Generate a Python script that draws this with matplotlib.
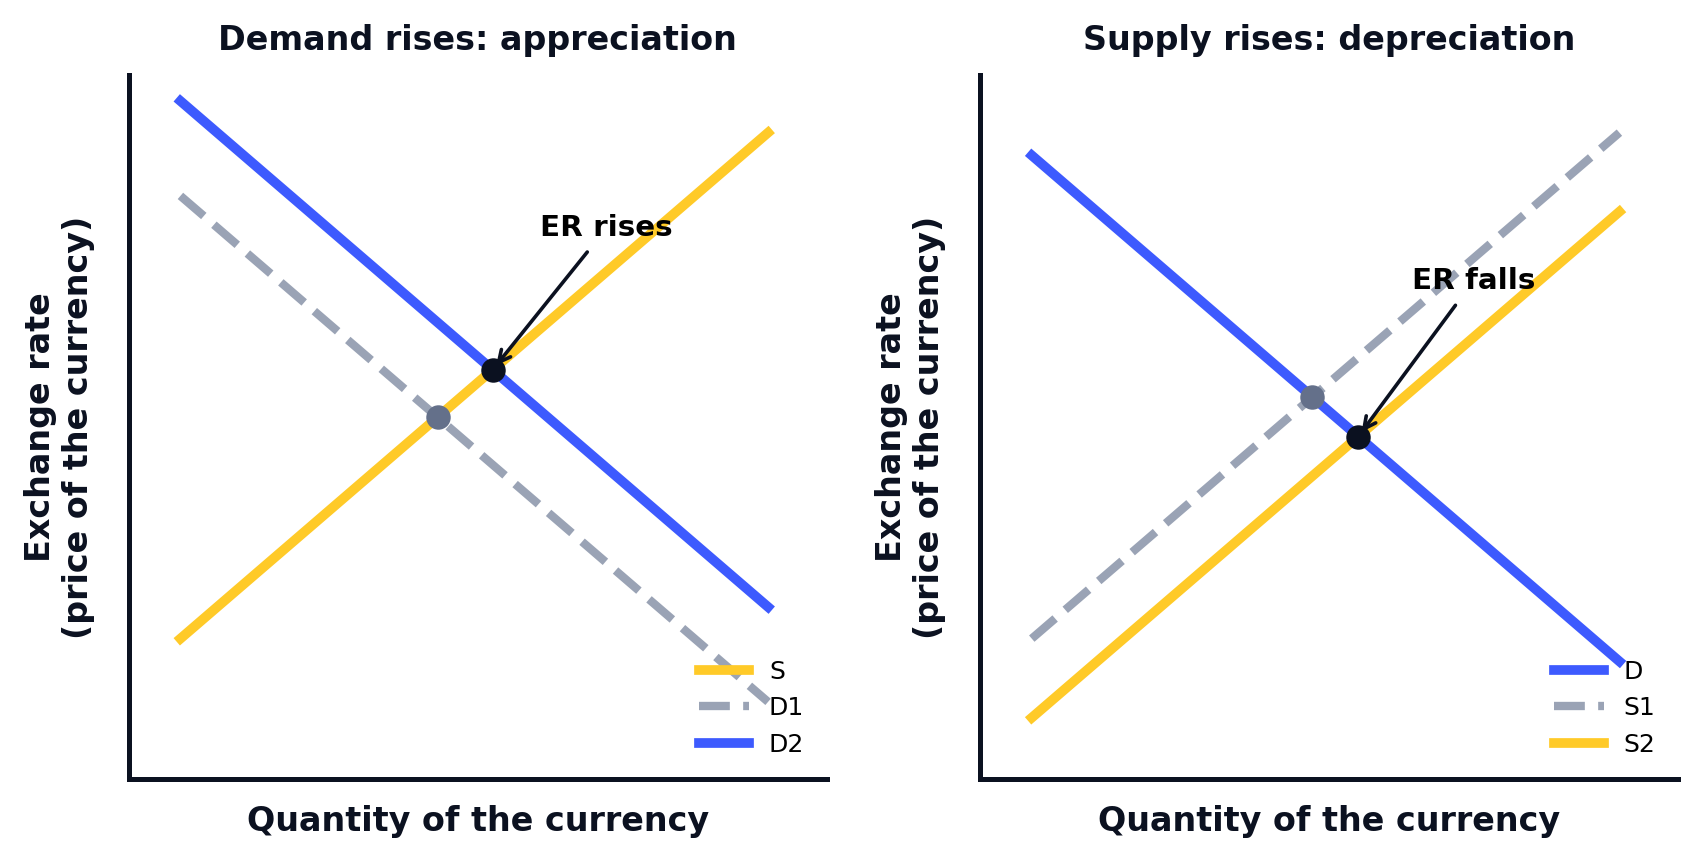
import matplotlib.pyplot as plt

# quantity end points of the straight lines
qty = [1, 9]

# left panel: demand rises
supply_left = [2, 10]
demand_old = [9, 1]
demand_new = [10.5, 2.5]
eq_left_old = (4.5, 5.5)
eq_left_new = (5.25, 6.25)

# right panel: supply rises
demand_right = [9.64, 1.64]
supply_old = [2, 10]
supply_new = [0.75, 8.75]
eq_right_old = (4.82, 5.82)
eq_right_new = (5.445, 5.195)

BLUE = '#3D5AFE'
YELLOW = '#FFCA28'
GREY = '#9AA3B5'
GREY_PT = '#64708A'
DARK = '#0B1120'

fig, axes = plt.subplots(1, 2, figsize=(8.51, 4.315), dpi=200)
plt.subplots_adjust(left=0.0758, right=0.986, bottom=0.0973, top=0.913, wspace=0.22)


def style(ax, title):
	ax.set_xlim(0.3, 9.8)
	ax.set_ylim(-0.22, 10.91)
	ax.set_xticks([])
	ax.set_yticks([])
	for s in ['top', 'right']:
		ax.spines[s].set_visible(False)
	for s in ['left', 'bottom']:
		ax.spines[s].set_linewidth(1.8)
		ax.spines[s].set_color(DARK)
	ax.set_title(title, fontsize=12, fontweight='bold', color=DARK, pad=9)
	ax.set_xlabel('Quantity of the currency', fontsize=12, fontweight='bold', color=DARK, labelpad=9.5)
	ax.set_ylabel('Exchange rate\n(price of the currency)', fontsize=12, fontweight='bold', color=DARK, labelpad=12.3)


ax = axes[0]
ax.plot(qty, supply_left, color=YELLOW, lw=3.5, label='S')
ax.plot(qty, demand_old, color=GREY, lw=3, ls='--', label='D1')
ax.plot(qty, demand_new, color=BLUE, lw=3.5, label='D2')
ax.plot(*eq_left_old, 'o', color=GREY_PT, ms=7.8, zorder=5)
ax.plot(*eq_left_new, 'o', color=DARK, ms=7.8, zorder=5)
ax.annotate('ER rises', xy=eq_left_new, xytext=(6.80, 8.49), ha='center', va='center',
	fontsize=10.6, fontweight='bold', color='black',
	arrowprops=dict(arrowstyle='->', color=DARK, lw=1.3))
ax.legend(loc='lower right', frameon=False, fontsize=9)
style(ax, 'Demand rises: appreciation')

ax = axes[1]
ax.plot(qty, demand_right, color=BLUE, lw=3.5, label='D')
ax.plot(qty, supply_old, color=GREY, lw=3, ls='--', label='S1')
ax.plot(qty, supply_new, color=YELLOW, lw=3.5, label='S2')
ax.plot(*eq_right_old, 'o', color=GREY_PT, ms=7.8, zorder=5)
ax.plot(*eq_right_new, 'o', color=DARK, ms=7.8, zorder=5)
ax.annotate('ER falls', xy=eq_right_new, xytext=(7.01, 7.65), ha='center', va='center',
	fontsize=10.6, fontweight='bold', color='black',
	arrowprops=dict(arrowstyle='->', color=DARK, lw=1.3))
ax.legend(loc='lower right', frameon=False, fontsize=9)
style(ax, 'Supply rises: depreciation')

plt.savefig('out.png', dpi=200)
